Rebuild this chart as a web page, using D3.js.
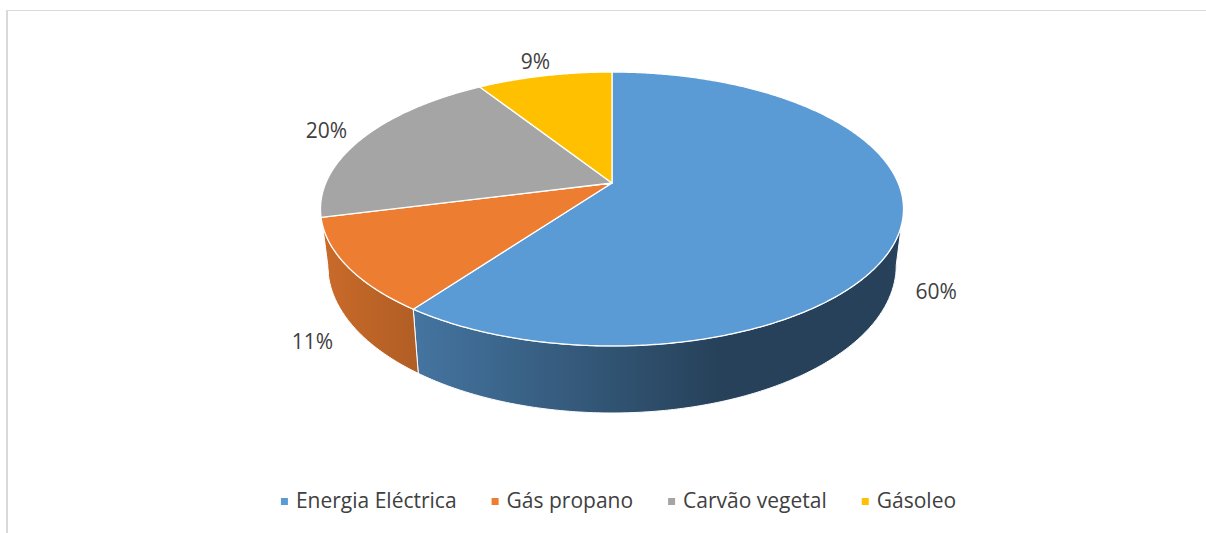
<!DOCTYPE html>
<html>
<head>
<meta charset="utf-8">
<script src="https://cdn.jsdelivr.net/npm/d3@7/dist/d3.min.js"></script>
<style>
  html, body { margin: 0; padding: 0; background: #fff; }
  svg { display: block; }
  text { font-family: "Open Sans", "Noto Sans", sans-serif; fill: #404040; }
</style>
</head>
<body>
<svg id="chart" width="1206" height="533"></svg>
<script>
// ---- data ----
const categories = ["Energia Eléctrica", "Gás propano", "Carvão vegetal", "Gásoleo"];
const values = [60, 11, 20, 9];
const percentLabels = ["60%", "11%", "20%", "9%"];
const colors = ["#5B9BD5", "#ED7D31", "#A5A5A5", "#FFC000"];

// ---- layout ----
const W = 1206, H = 533;
const svg = d3.select("#chart");

// chart frame
svg.append("line").attr("x1", 7).attr("x2", 7).attr("y1", 10).attr("y2", H)
  .attr("stroke", "#D9D9D9").attr("stroke-width", 2);
svg.append("line").attr("x1", 6).attr("x2", W).attr("y1", 10.5).attr("y2", 10.5)
  .attr("stroke", "#D9D9D9").attr("stroke-width", 1);

// perspective projection of a tilted disc
const P = { cx: 612, a: 183, b: -97.3, c: 0.1898, k: 286.2, depth: 54.3, shrink: 0.025 };
function proj(r, theta, h) {
  const u = r * Math.sin(theta), v = r * Math.cos(theta);
  const den = 1 + P.c * v;
  return [P.cx + P.k * u / den * (1 - P.shrink * h), (P.a + P.b * v) / den + h * P.depth / den];
}
function arcPoints(t0, t1, h, r = 1) {
  const n = Math.max(2, Math.ceil(Math.abs(t1 - t0) / (Math.PI / 360)));
  const pts = [];
  for (let i = 0; i <= n; i++) pts.push(proj(r, t0 + (t1 - t0) * i / n, h));
  return pts;
}

const pie = d3.pie().sort(null).startAngle(0).endAngle(2 * Math.PI)(values);
const line = d3.line();

// shading gradient for side walls
const defs = svg.append("defs");
const grad = defs.append("linearGradient").attr("id", "shade")
  .attr("gradientUnits", "userSpaceOnUse")
  .attr("x1", 321).attr("x2", 720).attr("y1", 0).attr("y2", 0);
grad.append("stop").attr("offset", 0).attr("stop-color", "#000").attr("stop-opacity", 0.15);
grad.append("stop").attr("offset", 1).attr("stop-color", "#000").attr("stop-opacity", 0.58);

// visible side range (front half of the cylinder)
const tA = Math.acos(-P.c), tB = 2 * Math.PI - tA;

const sides = svg.append("g");
pie.forEach((d, i) => {
  const s = Math.max(d.startAngle, tA), e = Math.min(d.endAngle, tB);
  if (e <= s) return;
  const top = arcPoints(s, e, 0);
  const bot = arcPoints(e, s, 1);
  const pts = top.concat(bot);
  sides.append("path").attr("d", line(pts) + "Z")
    .attr("fill", colors[i]);
  sides.append("path").attr("d", line(pts) + "Z")
    .attr("fill", "url(#shade)")
    .attr("stroke", "#fff").attr("stroke-width", 1).attr("stroke-linejoin", "round");
});

// top faces
const tops = svg.append("g");
pie.forEach((d, i) => {
  const pts = [proj(0, 0, 0)].concat(arcPoints(d.startAngle, d.endAngle, 0));
  tops.append("path").attr("d", line(pts) + "Z")
    .attr("fill", colors[i])
    .attr("stroke", "#fff").attr("stroke-width", 1.3).attr("stroke-linejoin", "round");
});

// data labels
pie.forEach((d, i) => {
  const mid = (d.startAngle + d.endAngle) / 2;
  const front = Math.cos(mid) < 0 ? 1 : 0;
  const r = front ? 1.14 : 1.16;
  const [x, y] = proj(r, mid, front);
  svg.append("text").attr("x", x).attr("y", y + 7.5)
    .attr("text-anchor", "middle").attr("font-size", 21).text(percentLabels[i]);
});

// legend
const legend = svg.append("g");
const sq = 7, gapSq = 8, gapItem = 35, legendY = 508, legendCenter = 618.5;
let xPos = 0;
const items = categories.map((c, i) => {
  const g = legend.append("g");
  g.append("rect").attr("x", 0).attr("y", -sq - 3).attr("width", sq).attr("height", sq)
    .attr("fill", colors[i]);
  const t = g.append("text").attr("x", sq + gapSq).attr("y", 0)
    .attr("font-size", 21).text(c);
  const w = sq + gapSq + t.node().getComputedTextLength();
  return { g, w };
});
const total = d3.sum(items, d => d.w) + gapItem * (items.length - 1);
xPos = legendCenter - total / 2;
items.forEach(it => {
  it.g.attr("transform", `translate(${xPos},${legendY})`);
  xPos += it.w + gapItem;
});
</script>
</body>
</html>
